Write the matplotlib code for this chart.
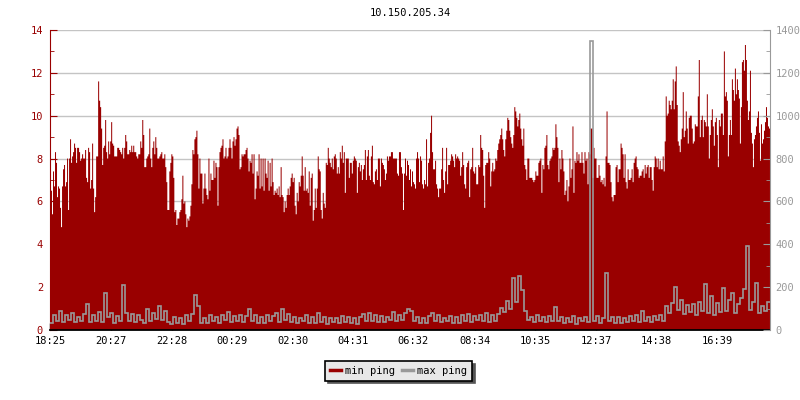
import numpy as np
import matplotlib.pyplot as plt
from matplotlib.ticker import MultipleLocator
from matplotlib.lines import Line2D

plt.rcParams['font.family'] = ['DejaVu Sans Mono']
plt.rcParams['font.size'] = 7.5

title = '10.150.205.34'
tick_labels = ['18:25', '20:27', '22:28', '00:29', '02:30', '04:31',
               '06:32', '08:34', '10:35', '12:37', '14:38', '16:39']

# min ping (ms), one sample every ~2 minutes, left axis
min_ping = [
    8.1, 6.5, 5.4, 7.4, 6.7, 8.3, 7.8, 6.2, 6.7, 6.6, 5.7, 4.8, 6.7, 7.5, 7.7, 6.7, 6.9, 8.0, 5.6, 8.0,
    8.9, 7.8, 8.1, 8.3, 8.7, 8.5, 7.8, 8.5, 8.5, 8.3, 7.9, 8.0, 8.2, 8.0, 8.0, 8.4, 7.1, 6.9, 8.5, 8.3,
    6.6, 7.0, 8.7, 6.6, 5.5, 6.2, 8.1, 8.1, 11.6, 10.7, 10.4, 9.4, 7.7, 8.5, 8.6, 9.8, 8.3, 8.0, 8.8, 8.2,
    8.8, 9.7, 8.7, 8.6, 8.1, 8.1, 8.1, 8.5, 8.5, 8.4, 8.3, 8.2, 8.5, 8.0, 8.5, 9.1, 8.8, 8.2, 8.2, 8.4,
    8.3, 8.6, 8.3, 8.6, 8.3, 8.3, 8.1, 8.0, 8.2, 8.2, 8.8, 8.5, 9.8, 9.1, 7.6, 7.6, 8.0, 8.1, 8.2, 9.4,
    8.0, 7.6, 8.5, 8.8, 8.2, 9.0, 8.5, 8.0, 8.0, 8.1, 8.2, 8.3, 8.0, 8.0, 8.2, 7.6, 6.9, 5.6, 5.6, 7.4,
    7.8, 8.2, 8.1, 7.1, 5.5, 5.6, 4.9, 5.2, 5.2, 5.5, 5.6, 6.1, 7.2, 5.9, 6.0, 5.4, 4.8, 5.2, 5.1, 5.3,
    5.8, 6.8, 8.4, 8.2, 8.9, 9.0, 9.3, 8.2, 6.6, 8.0, 7.3, 7.3, 5.9, 6.6, 7.3, 6.6, 6.3, 6.1, 8.0, 6.5,
    7.3, 7.0, 7.0, 7.9, 7.1, 7.8, 7.6, 5.8, 7.6, 8.3, 8.5, 8.6, 8.9, 8.0, 8.1, 8.5, 8.0, 8.1, 8.5, 8.9,
    8.5, 8.0, 8.8, 9.0, 8.6, 8.9, 9.4, 9.5, 9.1, 7.5, 7.6, 8.2, 8.1, 8.2, 8.2, 8.4, 8.5, 8.0, 7.4, 7.9,
    7.8, 8.2, 7.3, 8.2, 6.1, 6.6, 7.4, 7.2, 8.2, 6.6, 8.0, 6.7, 8.0, 6.5, 8.0, 7.3, 7.1, 7.9, 6.5, 7.8,
    6.7, 8.0, 6.9, 6.3, 6.5, 6.4, 6.6, 6.3, 6.7, 6.2, 7.6, 6.3, 6.2, 5.5, 6.0, 5.7, 6.3, 6.6,
    6.3, 6.7, 7.1, 7.3, 6.9, 7.1, 5.8, 5.4, 6.4, 6.0, 6.9, 6.7, 7.2, 8.1, 7.2, 6.5, 7.6, 6.5, 6.6, 6.4,
    7.4, 5.8, 7.1, 7.3, 5.1, 5.6, 6.6, 5.7, 6.6, 8.1, 7.5, 7.4, 5.6, 5.2, 6.4, 5.9, 5.7, 7.8, 7.7, 8.5,
    8.0, 7.8, 7.6, 8.0, 7.5, 8.1, 8.2, 8.0, 7.3, 7.6, 7.3, 8.3, 8.0, 8.6, 7.8, 8.3, 6.4, 8.0, 8.0, 8.0,
    7.1, 7.8, 7.8, 7.3, 7.9, 8.1, 8.0, 7.9, 6.4, 7.6, 7.8, 7.4, 7.7, 7.0, 7.5, 7.7, 8.4, 7.0, 8.1, 8.4,
    7.2, 7.0, 8.1, 8.6, 6.9, 6.8, 7.4, 7.5, 7.0, 8.0, 8.0, 6.7, 8.0, 7.8, 7.7, 7.5, 7.0, 7.3, 8.1, 7.9,
    8.1, 8.1, 8.3, 8.3, 8.0, 8.0, 8.0, 8.0, 7.3, 7.2, 8.3, 8.3, 7.6, 7.3, 5.6, 7.3, 8.0, 7.2, 7.9, 7.7,
    7.0, 7.5, 6.7, 7.4, 6.9, 6.8, 6.6, 8.0, 8.3, 8.0, 6.9, 8.1, 7.9, 6.8, 6.6, 7.0, 6.8, 8.9, 6.7, 7.8,
    8.0, 9.2, 10.0, 8.3, 7.5, 7.5, 7.9, 6.8, 6.6, 6.2, 6.6, 6.6, 7.5, 8.5, 7.0, 6.4, 7.4, 8.5, 6.8, 7.7,
    7.7, 7.9, 8.2, 8.1, 7.9, 7.6, 8.2, 8.0, 8.1, 8.0, 7.9, 7.2, 7.6, 8.3, 7.7, 6.8, 6.6, 7.6, 7.8, 7.9,
    6.2, 7.5, 7.6, 8.5, 7.4, 7.3, 7.6, 6.8, 6.8, 7.7, 7.6, 9.1, 8.5, 8.4, 7.2, 5.7, 7.7, 7.8, 7.8, 8.3,
    8.0, 6.7, 7.4, 7.8, 7.4, 7.5, 8.0, 7.9, 8.4, 8.7, 8.9, 9.1, 9.4, 8.9, 8.4, 8.1, 8.9, 9.3, 9.9, 9.8,
    9.3, 9.0, 8.7, 8.5, 9.1, 10.4, 10.2, 9.9, 9.5, 9.8, 10.1, 9.4, 8.9, 8.6, 9.4, 7.7, 7.5, 7.0, 8.0, 8.0,
    7.1, 7.1,
    7.1, 7.0, 6.9, 7.0, 7.4, 7.2, 7.2, 7.8, 7.9, 8.0, 6.4, 7.7, 7.5, 8.5, 8.6, 9.1, 7.7, 7.5, 7.9, 8.0,
    8.1, 8.5, 8.4, 8.5, 9.6, 9.0, 8.5, 6.9, 8.0, 7.5, 8.4, 8.0, 7.4, 6.3, 6.5, 7.0, 6.0, 6.7, 8.0, 7.1,
    7.5, 9.5, 6.4, 7.9, 7.8, 8.3, 7.9, 8.2, 7.8, 7.8, 8.3, 7.8, 7.3, 8.3, 7.9, 8.0, 6.8, 8.3, 8.2, 9.4,
    9.4, 7.1, 8.5, 8.0, 8.0, 7.1, 7.1, 7.7, 7.2, 6.9, 7.0, 6.8, 7.1, 6.7, 8.1, 10.2, 7.8, 7.8, 7.7, 6.9,
    6.2, 6.0, 6.3, 6.3, 7.6, 7.7, 6.9, 7.5, 7.5, 8.7, 8.5, 8.2, 7.1, 8.2, 6.9, 6.6, 7.5, 7.0, 7.0, 7.1,
    7.5, 6.9, 7.8, 8.0, 8.1, 7.6, 7.5, 7.1, 7.2, 7.2, 7.4, 7.5, 7.1, 7.7, 7.3, 7.6, 7.7, 7.1, 7.6, 7.6,
    7.0, 6.5, 7.6, 8.1, 8.0, 7.6, 8.0, 7.5, 7.9, 7.5, 7.5, 8.1, 7.4, 8.8, 10.9, 10.0, 10.1, 10.7, 10.5, 10.3,
    10.7, 11.7, 10.3, 11.6, 12.3, 10.5, 8.8, 8.6, 8.3, 8.9, 9.4, 11.1, 9.0, 9.3, 10.2, 9.4, 8.7, 9.9, 10.0, 10.0,
    9.4, 8.7, 8.8, 9.6, 9.5, 9.5, 10.9, 12.6, 9.0, 9.8, 10.0, 9.0, 9.8, 9.7, 9.5, 11.0, 9.5, 8.0, 9.1, 9.8,
    10.3, 9.5, 8.6, 9.7, 9.9, 9.1, 7.6, 9.8, 9.5, 10.1, 10.1, 9.1, 13.0, 10.9, 11.1, 10.7, 8.1, 9.1, 9.8, 9.1,
    11.7, 11.2, 10.7, 12.2, 11.0, 11.7, 11.2, 10.8, 8.7, 10.4, 12.5, 12.6, 12.1, 13.3, 12.6, 10.7, 9.8, 10.2, 12.1, 9.2,
    8.7, 7.6, 8.9, 9.1, 9.5, 9.9, 10.2, 9.2, 7.9, 9.6, 8.7, 8.9, 9.3, 9.7, 10.4, 9.9, 9.5, 9.4,
]

# max ping (ms), one sample every 6 minutes, right axis
max_ping = [
    35, 68, 42, 90, 38, 72, 45, 80, 36, 62, 40, 75, 120, 38, 70, 44, 82, 36, 171, 60,
    78, 34, 66, 40, 210, 80, 42, 74, 36, 70, 48, 35, 100, 40, 78, 52, 112, 45, 90, 38,
    30, 62, 32, 55, 30, 68, 40, 75, 163, 110, 35, 58, 32, 70, 40, 62, 34, 72, 45, 85,
    38, 66, 42, 70, 36, 64, 96, 40, 68, 34, 62, 32, 72, 40, 66, 80, 38, 96, 45, 75,
    36, 62, 32, 58, 40, 68, 35, 60, 34, 78, 38, 60, 30, 56, 36, 55, 32, 66, 38, 60,
    34, 58, 30, 62, 75, 42, 80, 40, 70, 36, 66, 38, 62, 48, 85, 40, 72, 45, 80, 100,
    90, 40, 62, 35, 58, 34, 66, 80, 42, 68, 36, 58, 40, 64, 32, 60, 35, 70, 42, 75,
    38, 66, 45, 70, 40, 80, 36, 68, 42, 75, 105, 85, 135, 100, 241, 130, 252, 186, 90, 45,
    62, 38, 70, 42, 60, 36, 66, 42, 106, 40, 60, 32, 58, 36, 66, 30, 55, 40, 62, 38,
    1350, 40, 66, 35, 58, 264, 42, 60, 34, 62, 32, 58, 38, 66, 40, 70, 36, 91, 42, 60,
    38, 66, 45, 72, 40, 110, 80, 125, 202, 95, 140, 75, 115, 85, 120, 70, 130, 90, 213, 80,
    160, 70, 125, 85, 198, 90, 140, 175, 80, 120, 150, 191, 392, 95, 130, 221, 80, 110, 90, 130,
]

RED = '#990000'
GRAY = '#999999'
span = 24 * 60


def minutes_from_start(label, start='18:25'):
    h, m = map(int, label.split(':'))
    h0, m0 = map(int, start.split(':'))
    return ((h * 60 + m) - (h0 * 60 + m0)) % span


edges_min = np.linspace(0, span, len(min_ping) + 1)
edges_max = np.linspace(0, span, len(max_ping) + 1)

fig = plt.figure(figsize=(8, 4), dpi=100)
ax = fig.add_axes([0.0625, 0.175, 0.9, 0.75])

ax.stairs(min_ping, edges_min, fill=True, color=RED, lw=0, zorder=2)
ax.set_xlim(0, span)
ax.set_ylim(0, 14)
ax.yaxis.set_major_locator(MultipleLocator(2))
ax.yaxis.set_minor_locator(MultipleLocator(1))
ax.grid(axis='y', color='#c4c4c4', lw=1)
ax.set_axisbelow(True)

ax.set_xticks([minutes_from_start(t) for t in tick_labels])
ax.set_xticklabels(tick_labels)
ax.tick_params(axis='x', direction='in', length=5, width=1, color='black', pad=4)
ax.tick_params(axis='y', which='major', direction='in', length=5, color=RED,
               labelcolor=RED, pad=5)
ax.tick_params(axis='y', which='minor', direction='in', length=3, color=RED)

ax.spines['top'].set_visible(False)
ax.spines['right'].set_visible(False)
ax.spines['left'].set_color(RED)
ax.spines['bottom'].set_color('black')
ax.spines['bottom'].set_linewidth(1.3)

ax2 = ax.twinx()
ax2.stairs(max_ping, edges_max, color=GRAY, lw=1.2, baseline=None)
ax2.set_ylim(0, 1400)
ax2.yaxis.set_major_locator(MultipleLocator(200))
ax2.yaxis.set_minor_locator(MultipleLocator(100))
ax2.tick_params(axis='y', which='major', direction='in', length=5, color=GRAY,
                labelcolor=GRAY, pad=4)
ax2.tick_params(axis='y', which='minor', direction='in', length=3, color=GRAY)
for side in ['top', 'left', 'bottom']:
    ax2.spines[side].set_visible(False)
ax2.spines['right'].set_color(GRAY)

fig.text(0.5125, 1 - 13 / 400, title, ha='center', va='center', fontsize=7.5)

handles = [Line2D([], [], color=RED, lw=2.5), Line2D([], [], color=GRAY, lw=2.5)]
leg = fig.legend(handles, ['min ping', 'max ping'], loc='center',
                 bbox_to_anchor=(0.498, 1 - 371 / 400), ncol=2, fancybox=False,
                 edgecolor='black', facecolor='#e8e8e8', framealpha=1,
                 shadow={'color': '#555555', 'alpha': 1},
                 handlelength=1.1, handletextpad=0.4, columnspacing=0.6,
                 borderpad=0.45, fontsize=7.5)
leg.get_frame().set_linewidth(1.2)

fig.savefig('out.png', dpi=100)
